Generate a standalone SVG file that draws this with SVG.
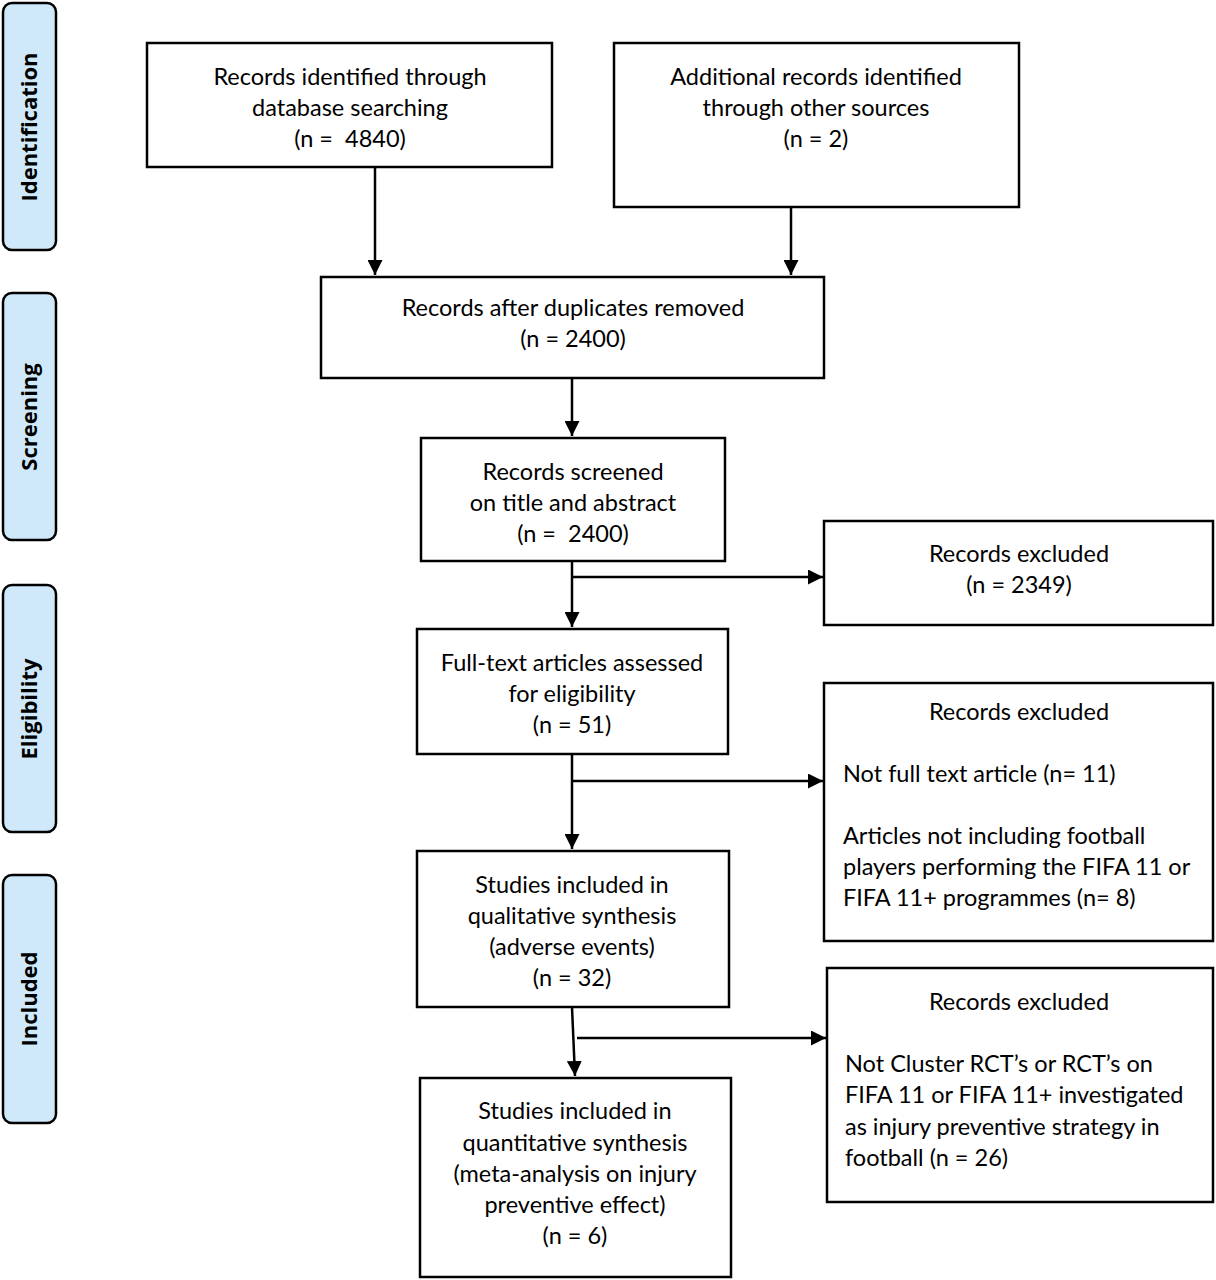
<svg xmlns="http://www.w3.org/2000/svg" width="1216" height="1280" viewBox="0 0 1216 1280">
<style>
.box{fill:#fff;stroke:#000;stroke-width:2.5}
.side{fill:#cfe9fb;stroke:#000;stroke-width:2.5}
.t{font-family:Lato,"Liberation Sans",sans-serif;font-size:23.5px;fill:#000}
.c{text-anchor:middle}
.s{font-family:"Open Sans","Liberation Sans",sans-serif;font-size:22px;font-weight:bold;text-anchor:middle;fill:#000}
.ln{stroke:#000;stroke-width:2.5;fill:none}
</style>
<defs>
<marker id="ah" viewBox="0 0 10 10" refX="10" refY="5" markerWidth="6" markerHeight="6" markerUnits="strokeWidth" orient="auto">
<path d="M0,0 L10,5 L0,10 z" fill="#000"/>
</marker>
</defs>
<g id="side-identification"><rect class="side" x="3" y="3" width="53" height="247" rx="9"/><text class="s" transform="translate(37,127) rotate(-90)">Identification</text></g>
<g id="side-screening"><rect class="side" x="3" y="293" width="53" height="247" rx="9"/><text class="s" transform="translate(37,417) rotate(-90)">Screening</text></g>
<g id="side-eligibility"><rect class="side" x="3" y="585" width="53" height="247" rx="9"/><text class="s" transform="translate(37,709) rotate(-90)">Eligibility</text></g>
<g id="side-included"><rect class="side" x="3" y="875" width="53" height="248" rx="9"/><text class="s" transform="translate(37,999) rotate(-90)">Included</text></g>

<g id="n1"><rect class="box" x="147" y="43" width="405" height="124"/>
<text class="t c" x="350" y="85">Records identified through</text>
<text class="t c" x="350" y="116">database searching</text>
<text class="t c" x="350" y="147" xml:space="preserve">(n =  4840)</text></g>
<g id="n2"><rect class="box" x="614" y="43" width="405" height="164"/>
<text class="t c" x="816" y="85">Additional records identified</text>
<text class="t c" x="816" y="116">through other sources</text>
<text class="t c" x="816" y="147">(n = 2)</text></g>
<g id="n3"><rect class="box" x="321" y="277" width="503" height="101"/>
<text class="t c" x="573" y="316">Records after duplicates removed</text>
<text class="t c" x="573" y="347">(n = 2400)</text></g>
<g id="n4"><rect class="box" x="421" y="438" width="304" height="123"/>
<text class="t c" x="573" y="480">Records screened</text>
<text class="t c" x="573" y="511">on title and abstract</text>
<text class="t c" x="573" y="542" xml:space="preserve">(n =  2400)</text></g>
<g id="n5"><rect class="box" x="824" y="521" width="389" height="104"/>
<text class="t c" x="1019" y="562">Records excluded</text>
<text class="t c" x="1019" y="593">(n = 2349)</text></g>
<g id="n6"><rect class="box" x="417" y="629" width="311" height="125"/>
<text class="t c" x="572" y="671">Full-text articles assessed</text>
<text class="t c" x="572" y="702">for eligibility</text>
<text class="t c" x="572" y="733">(n = 51)</text></g>
<g id="n7"><rect class="box" x="824" y="683" width="389" height="258"/>
<text class="t c" x="1019" y="720">Records excluded</text>
<text class="t" x="843" y="782">Not full text article (n= 11)</text>
<text class="t" x="843" y="844">Articles not including football</text>
<text class="t" x="843" y="875">players performing the FIFA 11 or</text>
<text class="t" x="843" y="906">FIFA 11+ programmes (n= 8)</text></g>
<g id="n8"><rect class="box" x="417" y="851" width="312" height="156"/>
<text class="t c" x="572" y="893">Studies included in</text>
<text class="t c" x="572" y="924">qualitative synthesis</text>
<text class="t c" x="572" y="955">(adverse events)</text>
<text class="t c" x="572" y="986">(n = 32)</text></g>
<g id="n9"><rect class="box" x="827" y="968" width="386" height="234"/>
<text class="t c" x="1019" y="1010">Records excluded</text>
<text class="t" x="845" y="1072">Not Cluster RCT’s or RCT’s on</text>
<text class="t" x="845" y="1103">FIFA 11 or FIFA 11+ investigated</text>
<text class="t" x="845" y="1135">as injury preventive strategy in</text>
<text class="t" x="845" y="1166">football (n = 26)</text></g>
<g id="n10"><rect class="box" x="420" y="1078" width="311" height="199"/>
<text class="t c" x="575" y="1119">Studies included in</text>
<text class="t c" x="575" y="1151">quantitative synthesis</text>
<text class="t c" x="575" y="1182">(meta-analysis on injury</text>
<text class="t c" x="575" y="1213">preventive effect)</text>
<text class="t c" x="575" y="1244">(n = 6)</text></g>

<g id="connectors">
<line class="ln" x1="375" y1="167" x2="375" y2="275" marker-end="url(#ah)"/>
<line class="ln" x1="791" y1="207" x2="791" y2="275" marker-end="url(#ah)"/>
<line class="ln" x1="572" y1="378" x2="572" y2="436" marker-end="url(#ah)"/>
<line class="ln" x1="572" y1="561" x2="572" y2="627" marker-end="url(#ah)"/>
<line class="ln" x1="572" y1="577" x2="823" y2="577" marker-end="url(#ah)"/>
<line class="ln" x1="572" y1="754" x2="572" y2="849" marker-end="url(#ah)"/>
<line class="ln" x1="572" y1="781" x2="823" y2="781" marker-end="url(#ah)"/>
<line class="ln" x1="572" y1="1007" x2="575" y2="1076" marker-end="url(#ah)"/>
<line class="ln" x1="577" y1="1038" x2="826" y2="1038" marker-end="url(#ah)"/>
</g>
</svg>
